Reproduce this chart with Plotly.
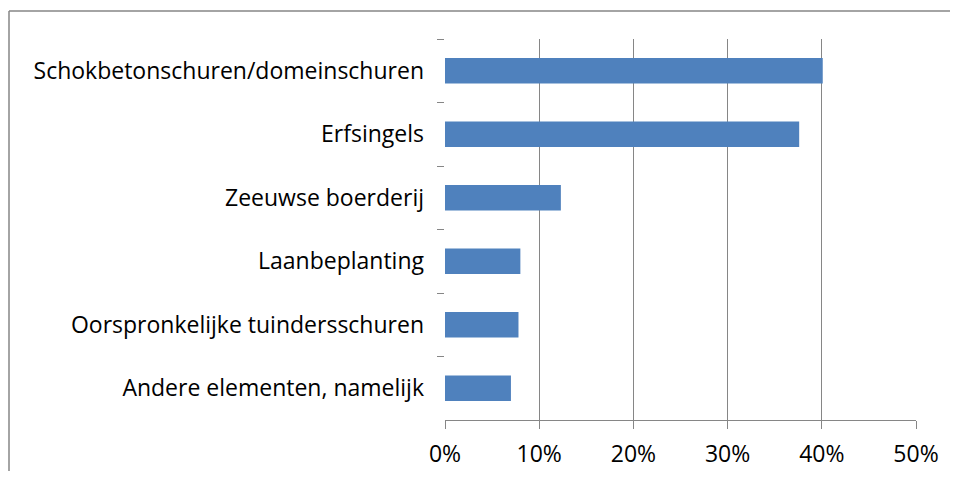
import plotly.graph_objects as go

categories = [
    "Schokbetonschuren/domeinschuren",
    "Erfsingels",
    "Zeeuwse boerderij",
    "Laanbeplanting",
    "Oorspronkelijke tuindersschuren",
    "Andere elementen, namelijk",
]
values = [0.401, 0.376, 0.123, 0.080, 0.078, 0.070]
x_ticks = [0, 0.1, 0.2, 0.3, 0.4, 0.5]
x_tick_labels = ["0%", "10%", "20%", "30%", "40%", "50%"]

OFF = 8  # page body margin
W, H = 958 - OFF, 479 - 2 * OFF
L, R, T, B = 445 - OFF, 916 - OFF, 39 - OFF, 420 - OFF
grey = "#868686"

fig = go.Figure(go.Bar(
    x=values, y=categories, orientation="h",
    marker=dict(color="#4F81BD", line=dict(width=0)),
    width=0.4,
))

pw, ph = R - L, B - T
def px(xp): return (xp - OFF - L) / pw
def py(yp): return (B - (yp - OFF)) / ph

fig.update_layout(
    width=W, height=H,
    margin=dict(l=L, r=W - R, t=T, b=H - B, pad=0, autoexpand=False),
    paper_bgcolor="white", plot_bgcolor="white",
    font=dict(family="Open Sans, Lato, sans-serif", size=23, color="black"),
    showlegend=False,
    xaxis=dict(
        range=[0, 0.5], tickvals=x_ticks, ticktext=x_tick_labels,
        showgrid=True, gridcolor=grey, gridwidth=1,
        showline=True, linecolor=grey, linewidth=1,
        ticks="outside", ticklen=8, tickcolor=grey, tickwidth=1,
        zeroline=False, fixedrange=True,
        ticklabelstandoff=5,
    ),
    yaxis=dict(
        autorange="reversed", type="category",
        tickson="boundaries", ticks="outside", ticklen=7, tickcolor=grey,
        showgrid=False, showline=False, zeroline=False,
        ticklabelstandoff=20,
    ),
    shapes=[
        dict(type="line", xref="paper", yref="paper",
             x0=px(9), x1=px(958), y0=py(11), y1=py(11),
             line=dict(color=grey, width=1.5)),
        dict(type="line", xref="paper", yref="paper",
             x0=px(9), x1=px(9), y0=py(11), y1=py(479),
             line=dict(color=grey, width=1.5)),
    ],
)

fig.write_html("out.html")
